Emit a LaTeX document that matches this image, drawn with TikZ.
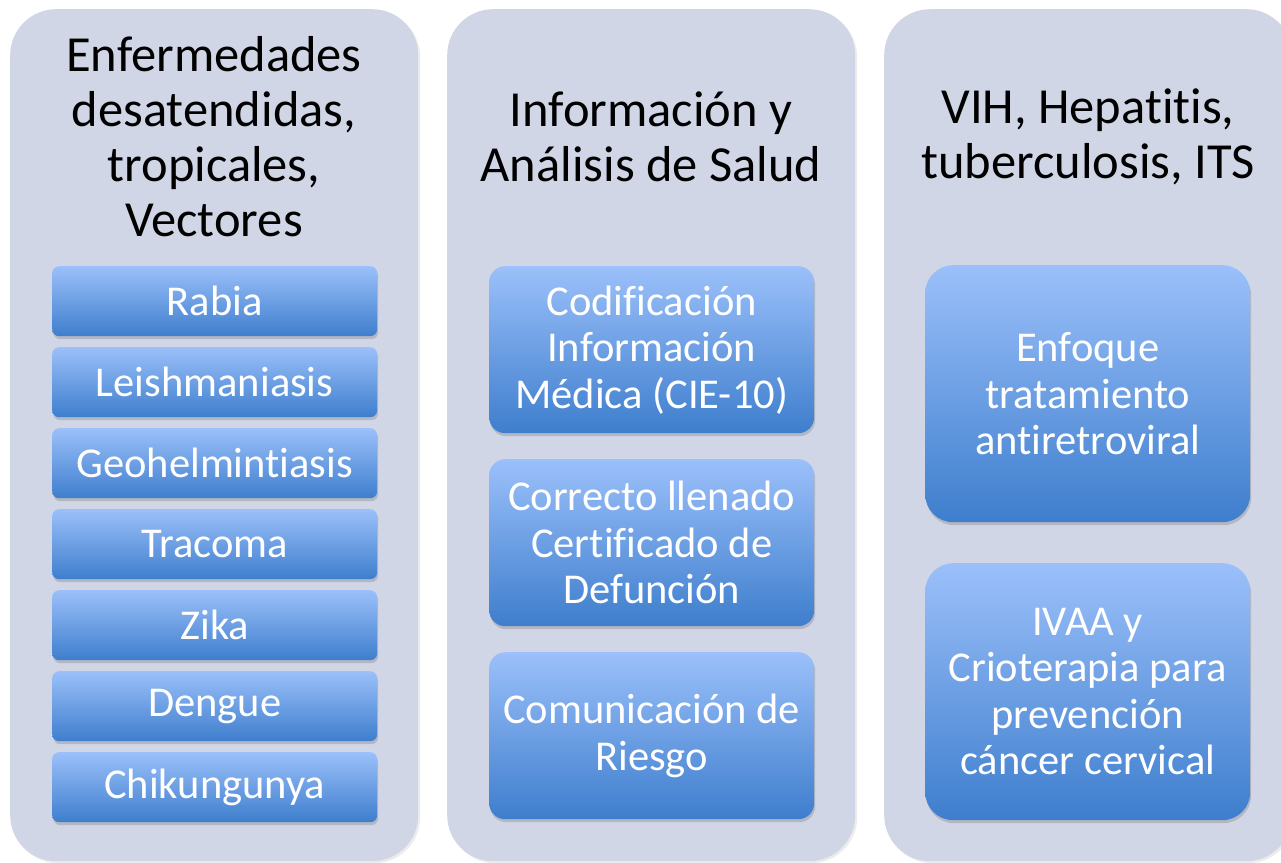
\documentclass[tikz,border=0pt]{standalone}
\usepackage{fontspec}
\setmainfont[Ligatures=NoCommon]{Carlito}
\usetikzlibrary{shadows}
\definecolor{panelbg}{RGB}{208,214,230}
\definecolor{boxtop}{RGB}{155,192,250}
\definecolor{boxbot}{RGB}{62,126,205}
\tikzset{
  x=1pt, y=-1pt,
  panel/.style={fill=panelbg, draw=none, rounded corners=46pt, anchor=north west, inner sep=0pt,
     drop shadow={shadow xshift=2pt, shadow yshift=-2pt, opacity=0.15}},
  ptitle/.style={text=black, align=center, font=\fontsize{50.5}{55}\selectfont, inner sep=0pt},
  boxbase/.style={anchor=north west, inner sep=0pt, draw=none, text=white, align=center,
     top color=boxtop, bottom color=boxbot, font=\fontsize{42.5}{46.5}\selectfont,
     drop shadow={shadow xshift=1pt, shadow yshift=-3pt, opacity=0.35}},
  smallbox/.style={boxbase, minimum width=325pt, minimum height=70pt, rounded corners=7pt},
  midbox/.style={boxbase, minimum width=325pt, minimum height=167pt, rounded corners=16pt},
  bigbox/.style={boxbase, minimum width=325pt, minimum height=257pt, rounded corners=28pt},
}
\begin{document}
\begin{tikzpicture}
\useasboundingbox (0,0) rectangle (1281,862);
\fill[white] (0,0) rectangle (1281,862);
% panels
\node[panel, minimum width=408pt, minimum height=852pt] (p1) at (10,9) {};
\node[panel, minimum width=408pt, minimum height=852pt] (p2) at (447,9) {};
\node[panel, minimum width=408pt, minimum height=852pt] (p3) at (884,9) {};
% titles
\node[ptitle] (t1) at (214,137) {Enfermedades\\desatendidas,\\tropicales,\\Vectores};
\node[ptitle] (t2) at (651,137) {Información y\\Análisis de Salud};
\node[ptitle] (t3) at (1088,137) {VIH, Hepatitis,\\tuberculosis, ITS};
% left column
\node[smallbox] (a1) at (52,266) {Rabia};
\node[smallbox] (a2) at (52,347) {Leishmaniasis};
\node[smallbox] (a3) at (52,428) {Geohelmintiasis};
\node[smallbox] (a4) at (52,509) {Tracoma};
\node[smallbox] (a5) at (52,590) {Zika};
\node[smallbox] (a6) at (52,671) {Dengue};
\node[smallbox] (a7) at (52,752) {Chikungunya};
% middle column
\node[midbox] (b1) at (489,266) {Codificación\\Información\\Médica (CIE-10)};
\node[midbox] (b2) at (489,459) {Correcto llenado\\Certificado de\\Defunción};
\node[midbox] (b3) at (489,652) {Comunicación de\\Riesgo};
% right column
\node[bigbox] (c1) at (925,265) {Enfoque\\tratamiento\\antiretroviral};
\node[bigbox] (c2) at (925,563) {IVAA y\\Crioterapia para\\prevención\\cáncer cervical};
\end{tikzpicture}
\end{document}
